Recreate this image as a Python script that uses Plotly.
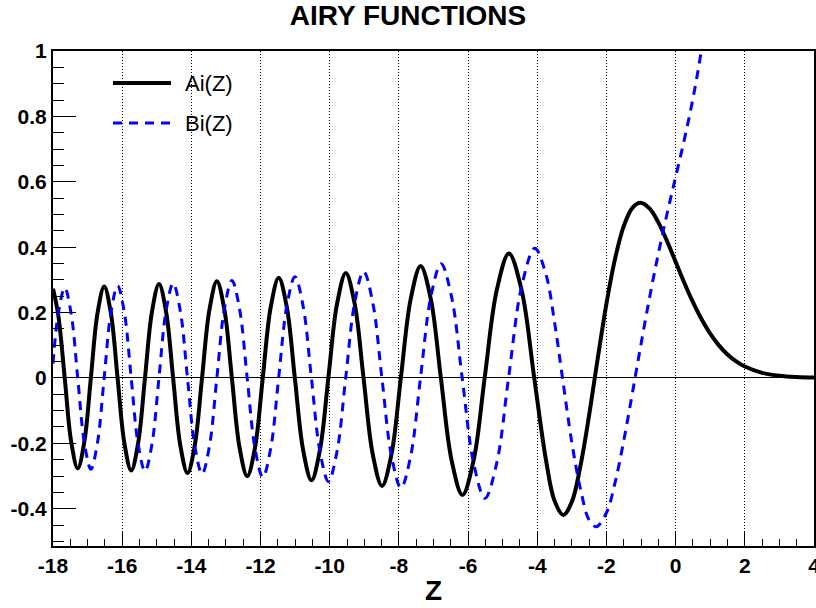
import plotly.graph_objects as go

# Ai(z): zeros, extrema and in-between samples
ai_z = [-18.0, -17.85, -17.661, -17.473, -17.2847, -17.095, -16.9056, -16.713, -16.5205,
        -16.327, -16.1327, -15.9355, -15.7382, -15.5395, -15.3408, -15.1384, -14.9359,
        -14.7319, -14.5278, -14.3197, -14.1115, -13.9015, -13.6915, -13.4769, -13.2622,
        -13.0455, -12.8288, -12.6068, -12.3848, -12.1604, -11.936, -11.7055, -11.4751,
        -11.2418, -11.0085, -10.7681, -10.5277, -10.2839, -10.0402, -9.7878, -9.5355,
        -9.2791, -9.0227, -8.7556, -8.4885, -8.2163, -7.9441, -7.6582, -7.3722, -7.0795,
        -6.7867, -6.475, -6.1633, -5.8419, -5.5206, -5.1703, -4.8201, -4.454, -4.088,
        -3.75, -3.5, -3.2482, -3.0, -2.75, -2.5, -2.3381, -2.0, -1.75, -1.5, -1.25,
        -1.0188, -0.75, -0.5, -0.25, 0.0, 0.25, 0.5, 0.75, 1.0, 1.25, 1.5, 1.75, 2.0,
        2.5, 3.0, 3.5, 4.0]
ai_v = [0.273, 0.194, 0.0, -0.196, -0.2768, -0.196, 0.0, 0.198, 0.2799,
        0.198, 0.0, -0.200, -0.2833, -0.200, 0.0, 0.203, 0.2870,
        0.203, 0.0, -0.206, -0.2911, -0.206, 0.0, 0.209, 0.2956,
        0.209, 0.0, -0.213, -0.3007, -0.213, 0.0, 0.217, 0.3065,
        0.217, 0.0, -0.221, -0.3132, -0.221, 0.0, 0.227, 0.3210,
        0.227, 0.0, -0.234, -0.3305, -0.234, 0.0, 0.242, 0.3423, 0.242,
        0.0, -0.253, -0.3579, -0.253, 0.0, 0.269, 0.3804, 0.269, 0.0,
        -0.250, -0.376, -0.4190, -0.3788, -0.268, -0.113, 0.0, 0.2274, 0.365, 0.4643, 0.520,
        0.5357, 0.5178, 0.4757, 0.4187, 0.3550, 0.2912, 0.2317, 0.1794, 0.1353, 0.0997, 0.0717, 0.0504, 0.0349,
        0.0157, 0.0066, 0.0026, 0.0010]

# Bi(z): zeros, extrema and in-between samples
bi_z = [-18.0, -17.85, -17.6605, -17.473, -17.2855, -17.0952, -16.9048, -16.7131, -16.5214,
        -16.3266, -16.1318, -15.9355, -15.7392, -15.5395, -15.3398, -15.1384, -14.9371,
        -14.7319, -14.5267, -14.3197, -14.1128, -13.9015, -13.6902, -13.4769, -13.2636,
        -13.0454, -12.8273, -12.6069, -12.3864, -12.1604, -11.9343, -11.7056, -11.477,
        -11.2417, -11.0064, -10.7682, -10.5299, -10.2839, -10.0378, -9.788, -9.5382,
        -9.2789, -9.0196, -8.7558, -8.492, -8.216, -7.94, -7.6584, -7.3768, -7.079,
        -6.7811, -6.4755, -6.1699, -5.8412, -5.5124, -5.1716, -4.8307, -4.4519, -4.0732,
        -3.75, -3.5, -3.2711, -3.0, -2.75, -2.5, -2.2944, -2.0, -1.75, -1.5, -1.25,
        -1.1737, -1.0, -0.75, -0.5, -0.25, 0.0, 0.25, 0.5, 0.75, 1.0]
bi_v = [0.044, 0.195, 0.2759, 0.195, 0.0, -0.197, -0.2789, -0.197, 0.0,
        0.199, 0.2821, 0.199, 0.0, -0.202, -0.2855, -0.202, 0.0,
        0.205, 0.2893, 0.205, 0.0, -0.208, -0.2936, -0.208, 0.0,
        0.211, 0.2983, 0.211, 0.0, -0.215, -0.3036, -0.215, 0.0,
        0.219, 0.3098, 0.219, 0.0, -0.224, -0.3169, -0.224, 0.0,
        0.230, 0.3255, 0.230, 0.0, -0.238, -0.3360, -0.238, 0.0, 0.247,
        0.3495, 0.247, 0.0, -0.260, -0.3680, -0.260, 0.0, 0.280, 0.3965,
        0.317, 0.170, 0.0, -0.1983, -0.340, -0.435, -0.4549, -0.4123, -0.3195, -0.1918, -0.0461,
        0.0, 0.1040, 0.2478, 0.3804, 0.5014, 0.6149, 0.7287, 0.8543, 1.007, 1.2074]

x_ticks = [-18, -16, -14, -12, -10, -8, -6, -4, -2, 0, 2, 4]
x_tick_text = ["-18", "-16", "-14", "-12", "-10", "-8", "-6", "-4", "-2", "0", "2", "4"]
y_ticks = [-0.4, -0.2, 0, 0.2, 0.4, 0.6, 0.8, 1]
y_tick_text = ["-0.4", "-0.2", "0", "0.2", "0.4", "0.6", "0.8", "1"]

BLUE = "#0000ff"
FONT = "Liberation Sans, Arial, Helvetica, sans-serif"

fig = go.Figure()
fig.add_trace(go.Scatter(x=ai_z, y=ai_v, mode="lines", name="Ai(Z)",
                         line=dict(color="black", width=4, shape="spline", smoothing=1)))
fig.add_trace(go.Scatter(x=bi_z, y=bi_v, mode="lines", name="Bi(Z)",
                         line=dict(color=BLUE, width=3, dash="9px,7px", shape="spline", smoothing=1)))

# hand-drawn legend entries (no border)
legend_rows = [("Ai(Z)", dict(color="black", width=4), 0.9353),
               ("Bi(Z)", dict(color=BLUE, width=3, dash="9px,7px"), 0.8544)]
for label, ln, yy in legend_rows:
    fig.add_shape(type="line", xref="paper", yref="paper", x0=0.0788, x1=0.1551,
                  y0=yy, y1=yy, line=ln)
    fig.add_annotation(xref="paper", yref="paper", x=0.1708, y=yy, text=label,
                       showarrow=False, xanchor="left", yanchor="middle",
                       font=dict(family=FONT, size=22, color="black"))

fig.update_layout(
    width=816, height=608,
    margin=dict(l=53, r=2, t=51, b=62, autoexpand=False),
    paper_bgcolor="white", plot_bgcolor="white",
    showlegend=False,
    title=dict(text="AIRY FUNCTIONS", x=0.5, xanchor="center", xref="container",
               y=1 - 15 / 608, yanchor="middle", yref="container",
               font=dict(family=FONT, size=28, color="black", weight="bold")),
    font=dict(family=FONT, color="black"),
)

fig.update_xaxes(
    range=[-18, 4], tickmode="array", tickvals=x_ticks, ticktext=x_tick_text,
    ticks="inside", ticklen=15, tickwidth=1, tickcolor="black",
    tickfont=dict(family=FONT, size=21, color="black", weight="bold"),
    ticklabeloverflow="allow", automargin=False,
    showline=True, linewidth=2, linecolor="black", mirror=True,
    showgrid=True, gridcolor="black", gridwidth=1, griddash="1px,2px",
    zeroline=False,
    minor=dict(tickmode="linear", tick0=0, dtick=0.5, ticks="inside", ticklen=7,
               tickwidth=1, tickcolor="black", showgrid=False),
    title=dict(text="Z", font=dict(family=FONT, size=28, color="black", weight="bold"),
               standoff=4),
)
fig.update_yaxes(
    range=[-0.514, 1.0], tickmode="array", tickvals=y_ticks, ticktext=y_tick_text,
    ticks="inside", ticklen=23, tickwidth=1, tickcolor="black",
    tickfont=dict(family=FONT, size=21, color="black", weight="bold"),
    ticklabeloverflow="allow", automargin=False,
    showline=True, linewidth=2, linecolor="black", mirror=True,
    showgrid=False,
    zeroline=True, zerolinecolor="black", zerolinewidth=1,
    minor=dict(tickmode="linear", tick0=0, dtick=0.05, ticks="inside", ticklen=11,
               tickwidth=1, tickcolor="black", showgrid=False),
)

fig.write_html("out.html")
